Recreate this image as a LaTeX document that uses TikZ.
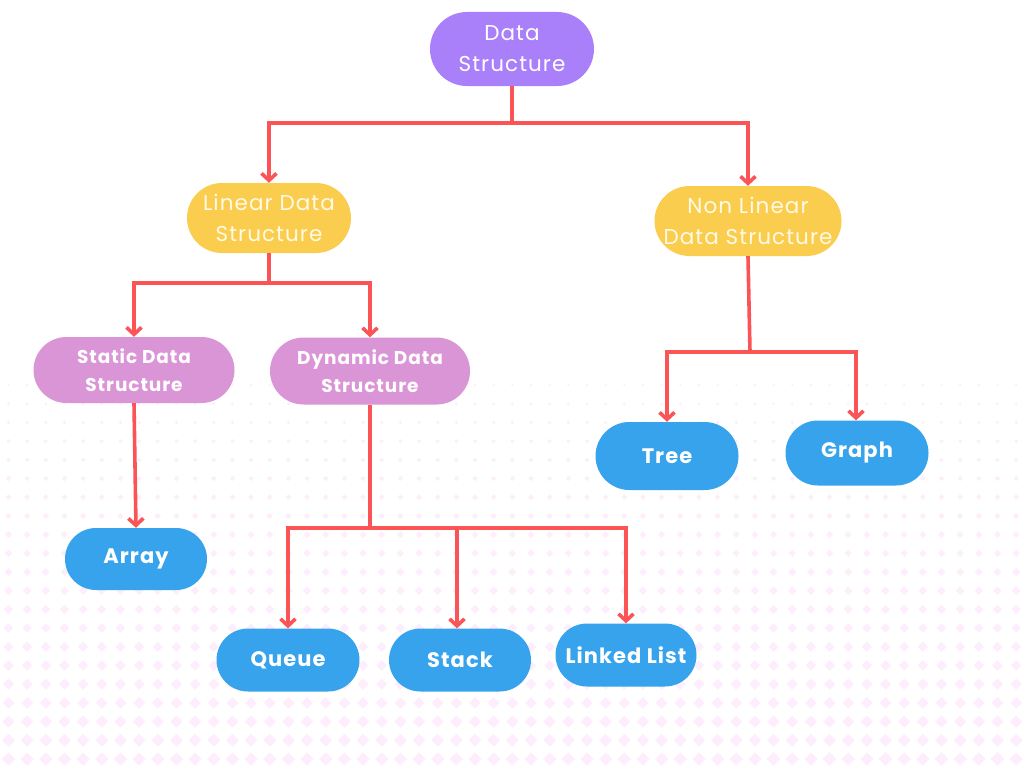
\documentclass[tikz,border=0pt]{standalone}
\usepackage{fontspec}
\setmainfont{Poppins}
\newfontfamily\spacedfont[LetterSpace=5]{Poppins}
\newfontfamily\boldspaced[LetterSpace=5]{Poppins}
\usetikzlibrary{arrows.meta}
\definecolor{dsred}{RGB}{250,84,87}
\definecolor{dspurple}{RGB}{169,127,250}
\definecolor{dsyellow}{RGB}{251,205,78}
\definecolor{dspink}{RGB}{218,149,214}
\definecolor{dsblue}{RGB}{54,163,236}
\definecolor{dotpink}{RGB}{253,237,253}
\definecolor{cream}{RGB}{255,250,230}
\tikzset{
  capsule/.style={rectangle, inner sep=0pt, align=center},
  lighttext/.style={font=\spacedfont\fontsize{21.5}{31}\selectfont},
  midtext/.style={font=\boldspaced\bfseries\fontsize{18.5}{28}\selectfont, text=white},
  leaftext/.style={font=\boldspaced\bfseries\fontsize{21}{24}\selectfont, text=white},
  link/.style={draw=dsred, line width=3.6pt, -{Straight Barb[length=7pt,width=15pt]}},
  trunk/.style={draw=dsred, line width=3.6pt}
}
\begin{document}
\begin{tikzpicture}[x=1pt,y=-1pt]
\fill[white] (0,0) rectangle (1024,768);
\useasboundingbox (0,0) rectangle (1024,768);
% background dotted pattern
\foreach \i in {0,...,20}{
  \pgfmathsetmacro\yy{385+\i*18.7}
  \pgfmathsetmacro\rr{1.2+\i*0.27}
  \foreach \j in {0,...,54}{
    \pgfmathsetmacro\xx{8.5+\j*18.66}
    \fill[dotpink] (\xx,\yy-\rr) -- (\xx+\rr,\yy) -- (\xx,\yy+\rr) -- (\xx-\rr,\yy) -- cycle;
  }
}
% nodes
\node[capsule, lighttext, fill=dspurple, text=white, minimum width=164pt, minimum height=74pt, rounded corners=37pt] (ds) at (512,49) {\raisebox{-2pt}{Data}\\\raisebox{-2pt}{Structure}};
\node[capsule, lighttext, fill=dsyellow, text=cream, minimum width=164pt, minimum height=70pt, rounded corners=35pt] (lin) at (269,218) {\raisebox{-1pt}{Linear Data}\\\raisebox{-1pt}{Structure}};
\node[capsule, lighttext, fill=dsyellow, text=cream, minimum width=187pt, minimum height=70pt, rounded corners=35pt] (nonlin) at (748,221) {\raisebox{-1pt}{Non Linear}\\\raisebox{-1pt}{Data Structure}};
\node[capsule, midtext, fill=dspink, minimum width=201pt, minimum height=66pt, rounded corners=33pt] (static) at (134,370) {Static Data\\Structure};
\node[capsule, midtext, fill=dspink, minimum width=200pt, minimum height=67pt, rounded corners=33.5pt] (dynamic) at (370,371) {Dynamic Data\\Structure};
\node[capsule, leaftext, fill=dsblue, minimum width=143pt, minimum height=68pt, rounded corners=34pt] (tree) at (667,456) {Tree};
\node[capsule, leaftext, fill=dsblue, minimum width=143pt, minimum height=65pt, rounded corners=32.5pt] (graph) at (857,453) {Graph};
\node[capsule, leaftext, fill=dsblue, minimum width=142pt, minimum height=62pt, rounded corners=31pt] (array) at (136,559) {Array};
\node[capsule, leaftext, fill=dsblue, minimum width=143pt, minimum height=63pt, rounded corners=31.5pt] (queue) at (288,660) {Queue};
\node[capsule, leaftext, fill=dsblue, minimum width=142pt, minimum height=63pt, rounded corners=31.5pt] (stack) at (460,660) {Stack};
\node[capsule, leaftext, fill=dsblue, minimum width=141pt, minimum height=63pt, rounded corners=31.5pt] (linked) at (626,655) {Linked List};
% junctions
\coordinate (j1) at (512,123);
\coordinate (j2) at (269,283);
\coordinate (j3) at (370,528);
\coordinate (j4) at (750,352);
% connectors
\draw[trunk] (ds.south) -- (j1);
\draw[link] (j1) -| (lin.north);
\draw[link] (j1) -| (nonlin.north);
\draw[trunk] (lin.south) -- (j2);
\draw[link] (j2) -| (static.north);
\draw[link] (j2) -| (dynamic.north);
\draw[link] (static.south) -- (array.north);
\draw[trunk] (dynamic.south) -- (j3);
\draw[link] (j3) -| (queue.north);
\draw[link] (j3) -| ([xshift=-3pt]stack.north);
\draw[link] (j3) -| (linked.north);
\draw[trunk] (nonlin.south) -- (j4);
\draw[link] (j4) -| (tree.north);
\draw[link] (j4) -| ([xshift=-1pt]graph.north);
\end{tikzpicture}
\end{document}
